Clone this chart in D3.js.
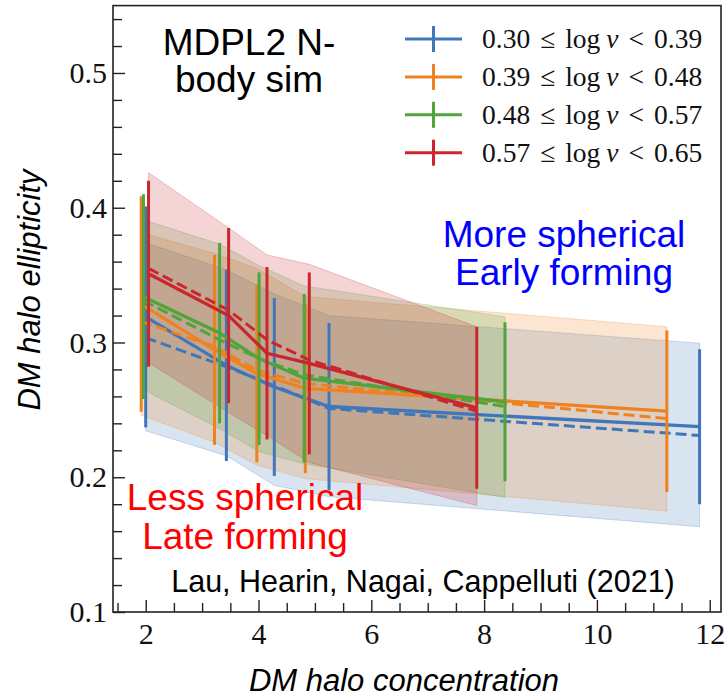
<!DOCTYPE html>
<html>
<head>
<meta charset="utf-8">
<script src="https://cdn.jsdelivr.net/npm/d3@7"></script>
<style>
  body { margin: 0; background: #fff; }
  .tick text { font-family: "Liberation Serif", serif; font-size: 30px; fill: #111; }
</style>
</head>
<body>
<script>
// DM halo ellipticity vs concentration, split in 4 bins of log nu
const binLo = ['0.30', '0.39', '0.48', '0.57'];
const binHi = ['0.39', '0.48', '0.57', '0.65'];
const colors = ['#3f77ba', '#ef8220', '#4fa53b', '#c9272d'];

// one inner list per bin (blue, orange, green, red)
const conc = [
  [2.00, 3.43, 4.28, 5.25, 11.82],
  [1.92, 3.22, 3.97, 4.83, 11.24],
  [1.96, 3.31, 4.01, 4.81, 8.37],
  [2.05, 3.47, 4.15, 4.90, 7.87]
];
const ellMean = [
  [0.319, 0.283, 0.267, 0.2525, 0.2375],
  [0.3285, 0.2945, 0.277, 0.266, 0.249],
  [0.334, 0.307, 0.288, 0.2735, 0.256],
  [0.351, 0.320, 0.292, 0.2845, 0.2515]
];
const ellErr = [
  [0.082, 0.071, 0.066, 0.062, 0.0575],
  [0.080, 0.0705, 0.066, 0.063, 0.060],
  [0.076, 0.067, 0.064, 0.0625, 0.059],
  [0.069, 0.065, 0.064, 0.0675, 0.060]
];
const ellFit = [
  [0.3035, 0.282, 0.268, 0.251, 0.231],
  [0.3155, 0.297, 0.2795, 0.2695, 0.2435],
  [0.331, 0.302, 0.288, 0.276, 0.2525],
  [0.355, 0.324, 0.302, 0.287, 0.249]
];
const bandLo = [
  [0.2345, 0.216, 0.194, 0.1856, 0.1633],
  [0.246, 0.226, 0.209, 0.199, 0.175],
  [0.265, 0.236, 0.219, 0.210, 0.185],
  [0.285, 0.248, 0.231, 0.211, 0.179]
];
const bandHi = [
  [0.374, 0.354, 0.336, 0.320, 0.2995],
  [0.3815, 0.366, 0.355, 0.334, 0.3117],
  [0.391, 0.373, 0.357, 0.342, 0.319],
  [0.426, 0.385, 0.365, 0.358, 0.3117]
];

const xTicks = [2, 4, 6, 8, 10, 12];
const yTicks = [0.1, 0.2, 0.3, 0.4, 0.5];

let W = 727, H = 700;
let svg = d3.select('body').append('svg')
  .attr('width', W)
  .attr('height', H);

let x = d3.scaleLinear().domain([1.42, 12.2]).range([113, 721]);
let y = d3.scaleLinear().domain([0.1, 0.55]).range([612, 5.6]);

// rows of {c, m, e, f, lo, hi} per bin
let series = conc.map((cs, i) => cs.map((c, j) => ({
  c: c, m: ellMean[i][j], e: ellErr[i][j], f: ellFit[i][j],
  lo: bandLo[i][j], hi: bandHi[i][j]
})));

// shaded bands first
let area = d3.area()
  .x(d => x(d.c))
  .y0(d => y(d.lo))
  .y1(d => y(d.hi));

svg.append('g').selectAll('path')
  .data(series)
  .enter().append('path')
  .attr('d', area)
  .attr('fill', (d, i) => colors[i])
  .attr('fill-opacity', 0.2)
  .attr('stroke', (d, i) => colors[i])
  .attr('stroke-opacity', 0.25)
  .attr('stroke-width', 1);

let line = d3.line().x(d => x(d.c)).y(d => y(d.m));
let fitLine = d3.line().x(d => x(d.c)).y(d => y(d.f));

series.forEach((s, i) => {
  let g = svg.append('g');
  g.selectAll('line')
    .data(s)
    .enter().append('line')
    .attr('x1', d => x(d.c)).attr('x2', d => x(d.c))
    .attr('y1', d => y(d.m - d.e)).attr('y2', d => y(d.m + d.e))
    .attr('stroke', colors[i])
    .attr('stroke-width', 3);
  g.append('path')
    .attr('d', line(s))
    .attr('fill', 'none')
    .attr('stroke', colors[i])
    .attr('stroke-width', 3.3);
  g.append('path')
    .attr('d', fitLine(s))
    .attr('fill', 'none')
    .attr('stroke', colors[i])
    .attr('stroke-width', 3)
    .attr('stroke-dasharray', '11,5');
});

// axes, ticks pointing inward
let xMinor = d3.range(1.5, 12.01, 0.5).filter(v => xTicks.indexOf(v) < 0);
let yMinor = d3.range(0.12, 0.55, 0.02).filter(v => Math.abs(v * 10 - Math.round(v * 10)) > 0.01);

svg.append('g')
  .attr('transform', 'translate(0,612)')
  .call(d3.axisBottom(x).tickValues(xMinor).tickSize(-9).tickFormat(''))
  .call(g => g.select('.domain').remove());
svg.append('g')
  .attr('transform', 'translate(0,612)')
  .call(d3.axisBottom(x).tickValues(xTicks).tickSize(-12).tickPadding(11).tickFormat(d3.format('d')))
  .call(g => g.select('.domain').remove());

svg.append('g')
  .attr('transform', 'translate(113,0)')
  .call(d3.axisLeft(y).tickValues(yMinor).tickSize(-9).tickFormat(''))
  .call(g => g.select('.domain').remove());
svg.append('g')
  .attr('transform', 'translate(113,0)')
  .call(d3.axisLeft(y).tickValues(yTicks).tickSize(-12).tickPadding(6).tickFormat(d3.format('.1f')))
  .call(g => g.select('.domain').remove());

svg.selectAll('.tick line').attr('stroke', '#222').attr('stroke-width', 1.4);

svg.append('rect')
  .attr('x', 113).attr('y', 5.6)
  .attr('width', 608).attr('height', 606.4)
  .attr('fill', 'none')
  .attr('stroke', '#222')
  .attr('stroke-width', 1.6);

// axis titles
svg.append('text')
  .attr('x', 404).attr('y', 691)
  .attr('text-anchor', 'middle')
  .style('font-family', '"Liberation Sans", Arial, sans-serif')
  .style('font-style', 'italic')
  .style('font-size', '31px')
  .text('DM halo concentration');

svg.append('text')
  .attr('transform', 'translate(40,290) rotate(-90)')
  .attr('text-anchor', 'middle')
  .style('font-family', '"Liberation Sans", Arial, sans-serif')
  .style('font-style', 'italic')
  .style('font-size', '31px')
  .text('DM halo ellipticity');

// legend
let leg = svg.append('g');
binLo.forEach((lo, i) => {
  let ry = 39 + i * 37.9;
  leg.append('line').attr('x1', 405).attr('x2', 462).attr('y1', ry).attr('y2', ry)
    .attr('stroke', colors[i]).attr('stroke-width', 3);
  leg.append('line').attr('x1', 433.5).attr('x2', 433.5).attr('y1', ry - 13).attr('y2', ry + 13)
    .attr('stroke', colors[i]).attr('stroke-width', 3);
  let t = leg.append('text')
    .attr('x', 482).attr('y', ry + 9)
    .style('font-family', '"Liberation Serif", serif')
    .style('font-size', '27.5px')
    .attr('fill', '#111');
  t.append('tspan').text(lo);
  t.append('tspan').attr('dx', 10).text('\u2264');
  t.append('tspan').attr('dx', 10).text('log');
  t.append('tspan').attr('dx', 6).style('font-style', 'italic').text('\u03bd');
  t.append('tspan').attr('dx', 10).text('<');
  t.append('tspan').attr('dx', 10).text(binHi[i]);
});

// annotations
function note(lines, cx, y0, dy, size, color) {
  lines.forEach((s, k) => {
    svg.append('text')
      .attr('x', cx).attr('y', y0 + k * dy)
      .attr('text-anchor', 'middle')
      .style('font-family', '"Liberation Sans", Arial, sans-serif')
      .style('font-size', size + 'px')
      .attr('fill', color)
      .text(s);
  });
}
note(['MDPL2 N-', 'body sim'], 249, 55, 37, 37, '#000');
note(['More spherical', 'Early forming'], 564, 247, 38, 37, '#0000ff');
note(['Less spherical', 'Late forming'], 245, 510, 39, 37, '#ff0000');
note(['Lau, Hearin, Nagai, Cappelluti (2021)'], 423, 592, 0, 30.5, '#000');
</script>
</body>
</html>
